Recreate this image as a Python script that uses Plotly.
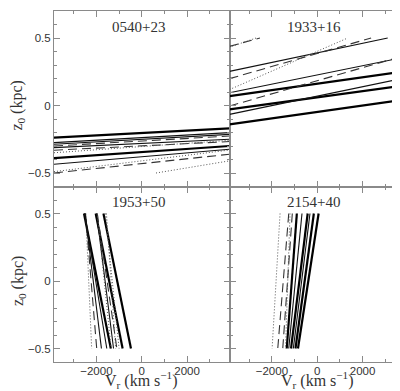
import plotly.graph_objects as go
from plotly.subplots import make_subplots

# ---------------- data ----------------
VR_RANGE = [-3870, 3870]
Z_RANGE = [-0.6, 0.7]
Z_LIMITS = [-0.5, 0.5]

panel_names = ["0540+23", "1933+16", "1953+50", "2154+40"]

x_tick_values = [-2000, 0, 2000]
y_tick_values = [-0.5, 0, 0.5]

# Panels 1 and 2: z0 (kpc) read at the left (Vr=-3870) and right (Vr=+3870) axis edges
p1_z_left = [-0.238, -0.275, -0.287, -0.300, -0.312, -0.331, -0.350, -0.390, -0.435, -0.500, -0.490, -0.625]
p1_z_right = [-0.169, -0.201, -0.214, -0.226, -0.250, -0.267, -0.258, -0.300, -0.324, -0.361, -0.330, -0.410]
p1_style = ["thick", "solid", "solid", "dash", "solid", "dash", "dot", "thick", "solid", "dash", "dot", "dot"]

p2_z_left = [0.438, 0.432, 0.253, 0.199, 0.118, 0.094, 0.069, -0.004, -0.029, -0.066, -0.140]
p2_z_right = [0.796, 0.881, 0.527, 0.572, 0.685, 0.359, 0.253, 0.371, 0.150, 0.204, 0.044]
p2_style = ["dash", "dot", "solid", "dash", "dot", "solid", "thick", "dash", "thick", "solid", "thick"]

# Panels 3 and 4: Vr (km/s) where each line reaches z0=+0.5 (top) and z0=-0.5 (bottom)
p3_vr_top = [-2547, -2470, -2480, -2500, -2520, -2031, -1990, -1960, -1960, -1689, -1600, -1556]
p3_vr_bottom = [-1364, -2209, -1987, -1778, -1542, -844, -1244, -1098, -1350, -476, -1000, -1150]
p3_style = ["thick", "dot", "dash", "solid", "solid", "thick", "solid", "dash", "dot", "thick", "dot", "dot"]

p4_vr_top = [-1640, -1257, -1200, -1100, -900, -673, -422, -321, -150, 60]
p4_vr_bottom = [-1991, -1741, -1400, -1521, -1345, -1257, -1156, -1055, -960, -850]
p4_style = ["dot", "dash", "dot", "dash", "thick", "solid", "thick", "solid", "thick", "thick"]

# ---------------- styles ----------------
STYLES = {
    "thick": dict(color="#000000", width=2.2, dash="solid"),
    "solid": dict(color="#111111", width=1.1, dash="solid"),
    "dash": dict(color="#333333", width=1.1, dash="9px,5px"),
    "dot": dict(color="#555555", width=1.0, dash="1px,2px"),
}


def clip_segment(x1, z1, x2, z2):
    """Clip the straight line through two points to z0 within Z_LIMITS."""
    zlo, zhi = Z_LIMITS

    def at_z(z):
        t = (z - z1) / (z2 - z1)
        return x1 + t * (x2 - x1)

    xa, za = x1, z1
    xb, zb = x2, z2
    if za < zlo:
        xa, za = at_z(zlo), zlo
    if za > zhi:
        xa, za = at_z(zhi), zhi
    if zb < zlo:
        xb, zb = at_z(zlo), zlo
    if zb > zhi:
        xb, zb = at_z(zhi), zhi
    return [xa, xb], [za, zb]


fig = make_subplots(rows=2, cols=2, horizontal_spacing=0, vertical_spacing=0)


def add_line(xs, zs, style, row, col):
    s = STYLES[style]
    fig.add_trace(
        go.Scatter(x=xs, y=zs, mode="lines", showlegend=False, hoverinfo="skip",
                   line=dict(color=s["color"], width=s["width"], dash=s["dash"])),
        row=row, col=col)


for zl, zr, st in zip(p1_z_left, p1_z_right, p1_style):
    xs, zs = clip_segment(VR_RANGE[0], zl, VR_RANGE[1], zr)
    add_line(xs, zs, st, 1, 1)

for zl, zr, st in zip(p2_z_left, p2_z_right, p2_style):
    xs, zs = clip_segment(VR_RANGE[0], zl, VR_RANGE[1], zr)
    add_line(xs, zs, st, 1, 2)

for vt, vb, st in zip(p3_vr_top, p3_vr_bottom, p3_style):
    add_line([vt, vb], [Z_LIMITS[1], Z_LIMITS[0]], st, 2, 1)

for vt, vb, st in zip(p4_vr_top, p4_vr_bottom, p4_style):
    add_line([vt, vb], [Z_LIMITS[1], Z_LIMITS[0]], st, 2, 2)

FRAME = "#8a8a8a"
TICKFONT = dict(family="Liberation Sans", size=11.5, color="#333333")

for r in (1, 2):
    for c in (1, 2):
        fig.update_xaxes(
            range=VR_RANGE, tickvals=x_tick_values, ticks="inside", ticklen=6,
            tickcolor=FRAME, tickwidth=1, showline=True, linecolor=FRAME, linewidth=1,
            mirror="allticks", showgrid=False, zeroline=False,
            showticklabels=(r == 2), tickfont=TICKFONT, ticklabelstandoff=-2,
            minor=dict(dtick=1000, tick0=0, ticks="inside", ticklen=3, tickcolor=FRAME, showgrid=False),
            row=r, col=c)
        fig.update_yaxes(
            range=Z_RANGE, tickvals=y_tick_values, ticks="inside", ticklen=6,
            tickcolor=FRAME, tickwidth=1, showline=True, linecolor=FRAME, linewidth=1,
            mirror="allticks", showgrid=False, zeroline=False,
            showticklabels=(c == 1), tickfont=TICKFONT,
            minor=dict(dtick=0.1, tick0=0, ticks="inside", ticklen=3, tickcolor=FRAME, showgrid=False),
            row=r, col=c)

TITLEFONT = dict(family="Liberation Serif", size=15, color="#333333")
AXFONT = dict(family="Liberation Serif", size=16, color="#333333")

axis_refs = [("x", "y"), ("x2", "y2"), ("x3", "y3"), ("x4", "y4")]
for name, (xr, yr) in zip(panel_names, axis_refs):
    fig.add_annotation(text=name, xref=f"{xr} domain", yref=f"{yr} domain",
                       x=0.48, y=0.91, showarrow=False, font=TITLEFONT,
                       xanchor="center", yanchor="middle")

# axis titles
for yr in ("y", "y3"):
    fig.add_annotation(text="z<sub>0</sub> (kpc)", xref="paper", yref=f"{yr} domain",
                       x=-0.103, y=0.46, textangle=-90, showarrow=False, font=AXFONT,
                       xanchor="center", yanchor="middle")
for xr in ("x3", "x4"):
    fig.add_annotation(text="V<sub>r</sub> (km s<sup>−1</sup>)", xref=f"{xr} domain", yref="paper",
                       x=0.5, y=-0.052, showarrow=False, font=AXFONT,
                       xanchor="center", yanchor="middle")

fig.update_layout(
    width=400, height=391,
    margin=dict(l=46, r=3, t=3, b=37),
    paper_bgcolor="white", plot_bgcolor="white",
    showlegend=False,
)

fig.write_html("out.html")
